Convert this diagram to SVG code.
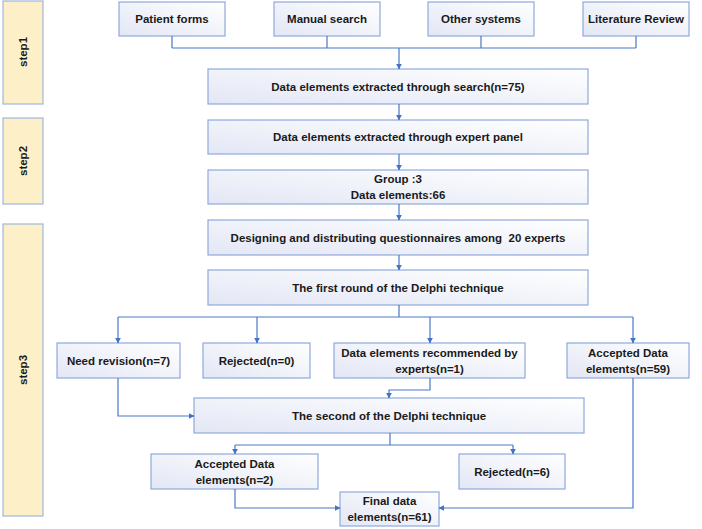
<svg xmlns="http://www.w3.org/2000/svg" width="702" height="529" viewBox="0 0 702 529">
<defs>
<linearGradient id="g" x1="1" y1="0" x2="0" y2="1">
<stop offset="0" stop-color="#ffffff"/>
<stop offset="1" stop-color="#e3e7f5"/>
</linearGradient>
<marker id="a" viewBox="0 0 10 10" refX="9" refY="5" markerWidth="6" markerHeight="6" orient="auto" markerUnits="userSpaceOnUse">
<path d="M0,0 L10,5 L0,10 z" fill="#4472c4"/>
</marker>
<style>
.box{fill:url(#g);stroke:#8fa9dc;stroke-width:1.2}
.step{fill:#fdf0c9;stroke:#9fb6e0;stroke-width:1.2}
text{font-family:"Liberation Sans",Arial,sans-serif;font-weight:bold;font-size:11.5px;fill:#1a1a1a;text-anchor:middle;dominant-baseline:central;white-space:pre}
.c{fill:none;stroke:#4a78c8;stroke-width:1.2}
.ar{marker-end:url(#a)}
</style>
</defs>
<rect width="702" height="529" fill="#ffffff"/>

<g id="step1"><rect class="step" x="3" y="1" width="40" height="103"/><text transform="translate(23,52) rotate(-90)">step1</text></g>
<g id="step2"><rect class="step" x="3" y="118" width="40" height="86"/><text transform="translate(23,161) rotate(-90)">step2</text></g>
<g id="step3"><rect class="step" x="3" y="224" width="40" height="292"/><text transform="translate(23,370) rotate(-90)">step3</text></g>

<g id="patient"><rect class="box" x="119" y="2" width="106" height="34"/><text x="172" y="19">Patient forms</text></g>
<g id="manual"><rect class="box" x="274" y="2" width="106" height="34"/><text x="327" y="19">Manual search</text></g>
<g id="other"><rect class="box" x="428" y="2" width="106" height="34"/><text x="481" y="19">Other systems</text></g>
<g id="literature"><rect class="box" x="583" y="2" width="106" height="34"/><text x="636" y="19">Literature Review</text></g>

<g id="search"><rect class="box" x="208" y="69" width="380" height="35"/><text x="398" y="86.5">Data elements extracted through search(n=75)</text></g>
<g id="panel"><rect class="box" x="208" y="120" width="380" height="34"/><text x="398" y="137">Data elements extracted through expert panel</text></g>
<g id="group"><rect class="box" x="208" y="170" width="380" height="34"/><text x="398" y="179">Group :3</text><text x="398" y="195">Data elements:66</text></g>
<g id="designing"><rect class="box" x="208" y="220" width="380" height="35"/><text x="398" y="237.5" xml:space="preserve">Designing and distributing questionnaires among  20 experts</text></g>
<g id="first"><rect class="box" x="208" y="270" width="380" height="35"/><text x="398" y="287.5">The first round of the Delphi technique</text></g>

<g id="revision"><rect class="box" x="57" y="343" width="123" height="35"/><text x="118.5" y="360.5">Need revision(n=7)</text></g>
<g id="rejected0"><rect class="box" x="203" y="343" width="107" height="35"/><text x="256.5" y="360.5">Rejected(n=0)</text></g>
<g id="recommended"><rect class="box" x="334" y="343" width="191" height="35"/><text x="429.5" y="353">Data elements recommended by</text><text x="429.5" y="369">experts(n=1)</text></g>
<g id="accepted59"><rect class="box" x="567" y="343" width="122" height="35"/><text x="628" y="353">Accepted Data</text><text x="628" y="369">elements(n=59)</text></g>

<g id="second"><rect class="box" x="194" y="398" width="390" height="35"/><text x="389" y="416">The second of the Delphi technique</text></g>

<g id="accepted2"><rect class="box" x="151" y="454" width="167" height="35"/><text x="234.5" y="464">Accepted Data</text><text x="234.5" y="480">elements(n=2)</text></g>
<g id="rejected6"><rect class="box" x="459" y="454" width="106" height="35"/><text x="512" y="471.5">Rejected(n=6)</text></g>
<g id="final"><rect class="box" x="340" y="492" width="99" height="34"/><text x="389.5" y="501">Final data</text><text x="389.5" y="517">elements(n=61)</text></g>

<g id="connectors">
<path class="c" d="M172,36 V48 M327,36 V48 M481,36 V48 M636,36 V48 M172,48 H636"/>
<path class="c ar" d="M399,48 V69"/>
<path class="c ar" d="M399,104 V120"/>
<path class="c ar" d="M399,154 V170"/>
<path class="c ar" d="M399,204 V220"/>
<path class="c ar" d="M399,255 V270"/>
<path class="c" d="M399,305 V317 M118,317 H633"/>
<path class="c ar" d="M118,317 V343"/>
<path class="c ar" d="M257,317 V343"/>
<path class="c ar" d="M430,317 V343"/>
<path class="c ar" d="M633,317 V343"/>
<path class="c ar" d="M118,378 V416 H194"/>
<path class="c ar" d="M430,378 V390 H389 V398"/>
<path class="c ar" d="M633,378 V508 H439"/>
<path class="c" d="M390,433 V445 M235,445 H513"/>
<path class="c ar" d="M235,445 V454"/>
<path class="c ar" d="M513,445 V454"/>
<path class="c ar" d="M235,489 V508 H340"/>
</g>
</svg>
